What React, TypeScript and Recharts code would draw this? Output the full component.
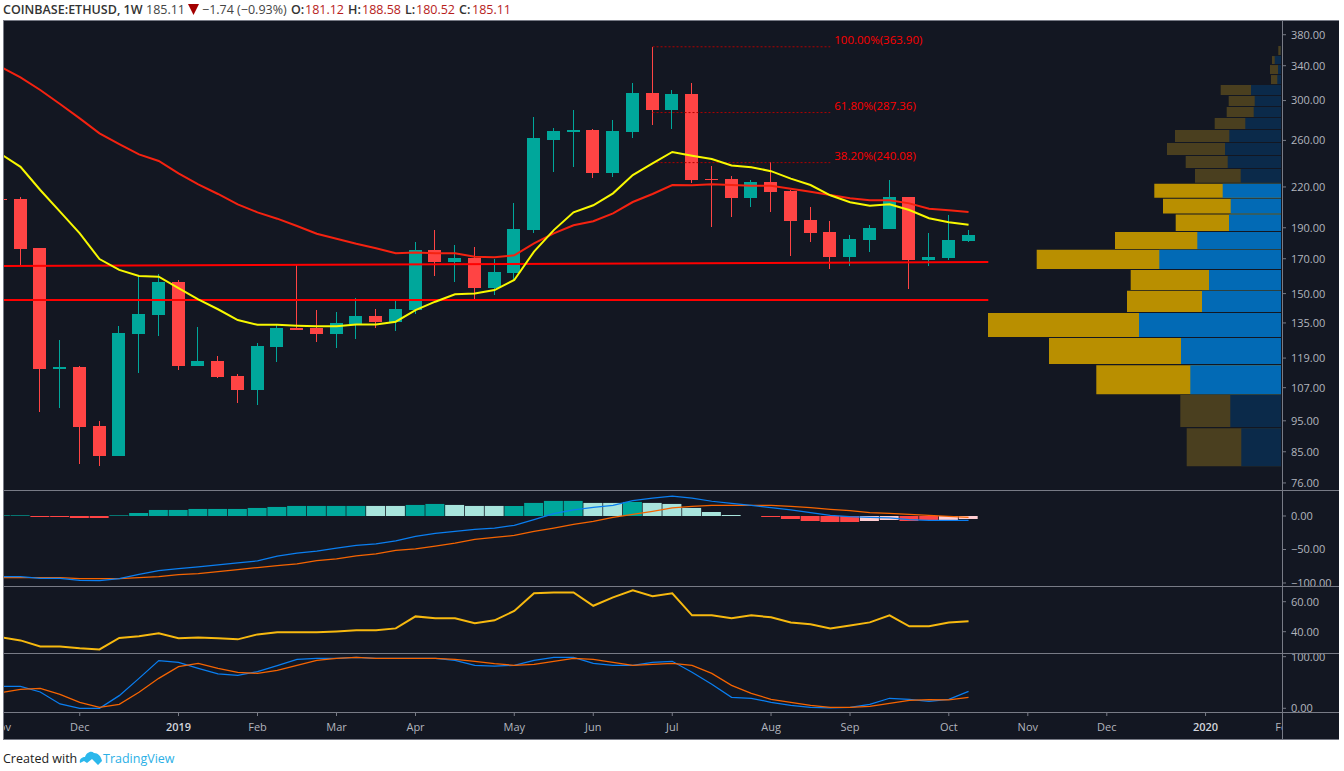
import {
  ComposedChart,
  Bar,
  Cell,
  Line,
  XAxis,
  YAxis,
  ReferenceLine,
  ReferenceArea,
} from "recharts";

// weekly candles, week 0 is the one cut off by the left edge
const opens = [211, 210.6, 176.7, 114.4, 115.3, 93.3, 83.7, 129.7, 138.9, 156.4, 115.7, 117.8, 111.6, 106.1, 123.8, 132.5, 132.5, 129.7, 134.5, 138.4, 135.4, 141.4, 175.4, 168, 170.4, 153, 161.5, 188.4, 260.4, 267.9, 269.9, 231.3, 267.9, 308.2, 290, 307.2, 226.3, 226.3, 211.4, 223.9, 216.8, 195.4, 187.1, 171.1, 181.8, 189.1, 212.2, 169.2, 170.4, 181.12];
const highs = [211.5, 212, 177, 127, 115.7, 94.9, 133.5, 159.8, 160.9, 157.5, 133, 119.9, 112.4, 125.6, 134.5, 166.2, 141.4, 140.4, 147.6, 141.9, 146.1, 180.5, 188.4, 178.6, 177.3, 169.8, 207.7, 282.8, 271.8, 290, 270.9, 279.8, 319.5, 363.9, 311.6, 319.5, 237.2, 228.8, 225.5, 240.6, 217.6, 204.7, 194.6, 185.1, 191.9, 225.5, 212.2, 186.4, 198.9, 188.58];
const lows = [210, 165.8, 98.4, 99.4, 81.3, 80.8, 83.7, 112.8, 128.8, 114, 115.7, 110.8, 101.3, 100.5, 117.3, 131.6, 126, 123.4, 127.4, 132.5, 131.2, 139.4, 159.8, 156.4, 146.6, 149.2, 157.5, 186.4, 232.1, 236.3, 227.2, 228, 262.2, 274.7, 270.9, 223.1, 190.5, 197.5, 204.7, 201, 171.7, 180.5, 163.8, 165.6, 174.1, 189.1, 152.5, 165.6, 169.2, 180.52];
const closes = [210.3, 176, 114.4, 115.3, 92.9, 83.7, 130.2, 139.4, 156.4, 115.7, 117.8, 111.2, 106.1, 124.3, 132.5, 131.6, 129.7, 134.9, 138.4, 135.4, 141.9, 175.4, 168, 170.4, 153, 162.1, 189.1, 262.2, 268.9, 269.9, 231.3, 268.9, 308.2, 290, 307.2, 225.5, 225.5, 211.4, 223.9, 216, 194.6, 186.4, 171.1, 182.5, 189.8, 212.2, 169.2, 171.1, 181.8, 185.11];

const maFast = [247.6, 236.5, 217.6, 201.3, 186.2, 169.8, 163.3, 159.8, 159.4, 153, 146.9, 141.8, 136.4, 134.1, 134.1, 133.7, 133.4, 133.4, 134.3, 134.3, 135.6, 141.4, 145.7, 149.6, 150.1, 151.9, 157.5, 174.4, 188.4, 200.8, 206, 215, 229.6, 239.5, 249.4, 246.1, 243.2, 237.6, 236.1, 232.8, 226.7, 221.5, 213.5, 208.2, 205.7, 206.7, 202.5, 196.6, 193.8, 192.1];
const maSlow = [338.4, 326.1, 311.6, 296.3, 281.4, 266.7, 256.6, 247.3, 241.5, 231, 222.1, 214.5, 206.7, 200.8, 196.3, 191.2, 186, 182.7, 179.4, 176.5, 173.4, 173.8, 173.4, 173.4, 171.2, 170.9, 172.1, 179.7, 186.2, 191.7, 194.5, 200.1, 208.4, 214.5, 221.5, 221.3, 222.1, 221.5, 221, 221, 218.6, 216.3, 213.7, 211.2, 209.7, 209.7, 207.4, 203.5, 202.3, 201];

const macdHist = [1, 1, -1.5, -1.5, -3, -3, 1, 4.5, 9, 9, 10.5, 10.5, 10.5, 12, 13.5, 15, 15, 15, 15, 15, 15, 16.5, 18, 16.5, 15, 15, 15, 19.5, 22.5, 22.5, 19.5, 19.5, 21, 19.5, 18, 12, 6, 1.5, 0, -1.5, -4.5, -7.5, -9, -9, -7.5, -6, -7.5, -6, -6, -4.5];
const macdPale = [19, 20, 23, 24, 25, 30, 31, 33, 34, 35, 36, 37, 44, 45, 48, 49];
const macdLine = [-90.5, -90.5, -93, -93, -96, -96.5, -93.5, -87, -81.5, -78.5, -76, -73, -70, -67, -60, -55.5, -52.5, -48, -44, -41.5, -37, -30.5, -26, -23, -20, -18, -14, -5.5, 3.5, 9, 13, 16, 23, 26.5, 29.5, 26.5, 22, 19, 16, 12.5, 9, 5, 1, -1, -2, -3, -5.5, -6.5, -6.5, -6.5];
const macdSignal = [-92, -92, -92, -92, -93.5, -93.5, -93.5, -92, -90.5, -87.5, -86, -83, -80, -77, -74, -71.5, -66.5, -64, -59.5, -56.5, -51.5, -49, -45, -40.5, -35, -32, -29, -23, -18, -12.5, -8, -2, 2.5, 7, 12, 14.5, 16, 16, 16, 16, 14.5, 12.5, 10, 8, 5, 4, 2.5, 1, -0.5, -2];

const rsi = [36.4, 34.2, 30.2, 30.2, 28.9, 28.2, 35.8, 36.9, 38.9, 35.6, 36.2, 35.6, 34.9, 38.2, 39.6, 39.6, 39.6, 40.2, 40.9, 40.9, 42.2, 50.2, 48.9, 48.9, 45.6, 47.6, 53.8, 65.6, 66.2, 66.2, 57.3, 62.9, 67.6, 63.6, 65.6, 50.9, 50.9, 48.9, 50.9, 49.6, 46.2, 44.9, 42.2, 44.2, 46.2, 50.9, 43.6, 43.6, 46.2, 46.9];

const stochK = [42.6, 42.6, 31.6, 8.4, 0, 0, 24.5, 58, 92.3, 89, 77.4, 66.5, 63.9, 71, 82.6, 94.8, 96.8, 96.8, 98.7, 96.8, 96.8, 96.8, 96.8, 92.9, 83.2, 81.9, 83.2, 92.9, 98.7, 98.7, 87.1, 83.2, 83.2, 89, 91, 69.7, 46.5, 21.3, 19.4, 11.6, 5.8, 1.9, 0.6, 1.9, 7.7, 19.4, 17.4, 13.5, 17.4, 32.9];
const stochD = [30.3, 36.8, 38.7, 27.1, 11.6, 1.9, 7.7, 31, 58, 80.6, 87.1, 77.4, 69.7, 67.7, 73.5, 83.2, 92.9, 96.8, 98.7, 96.8, 96.8, 96.8, 96.8, 94.8, 91, 86.5, 83.2, 85.2, 91, 96.8, 94.8, 89, 83.2, 85.2, 87.1, 83.2, 67.7, 44.5, 29, 17.4, 11.6, 5.8, 1.9, 1.9, 3.9, 9.7, 15.5, 16.8, 16.1, 21.3];

// volume profile rows, top to bottom
const vpHigh = [364.9, 352, 340.8, 328.8, 317.2, 304.9, 293.1, 281.7, 269.8, 257.7, 245.9, 234.7, 222.6, 210.9, 199.3, 187.1, 175.5, 163.3, 151.5, 139.9, 127.9, 116, 104.2, 92.5];
const vpLow = [353.3, 342.1, 330, 318.3, 306, 294.1, 282.7, 270.8, 258.6, 246.8, 235.5, 223.4, 211.7, 200, 187.8, 176.1, 163.9, 152, 140.4, 128.4, 116.5, 104.5, 92.9, 80.7];
const vpUp = [0.3, 6.3, 3, 3.7, 30, 26.3, 27.3, 35.7, 51.7, 56, 53.3, 40.3, 58.3, 50.3, 52, 83.7, 121.7, 72, 79, 142, 100, 90.7, 50.7, 39.7];
const vpTotal = [2.7, 9, 11, 10, 60.3, 52.3, 54.3, 66.3, 106, 114, 95.3, 86, 126.7, 118, 105.3, 166, 244.3, 150.3, 154, 293, 232, 184.7, 100.7, 94.3];
const vpValueArea = [12, 13, 14, 15, 16, 17, 18, 19, 20, 21];

const priceTicks = [380, 340, 300, 260, 220, 190, 170, 150, 135, 119, 107, 95, 85, 76];
const timeWeeks = [0, 4, 9, 13, 17, 21, 26, 30, 34, 39, 43, 48, 52, 56, 61, 65];
const timeLabels = ["Nov", "Dec", "2019", "Feb", "Mar", "Apr", "May", "Jun", "Jul", "Aug", "Sep", "Oct", "Nov", "Dec", "2020", "Feb"];

const fibLevels = [
  { label: "100.00%(363.90)", price: 363.9 },
  { label: "61.80%(287.36)", price: 287.36 },
  { label: "38.20%(240.08)", price: 240.08 },
];

const BG = "#131722";
const GRID = "#787b86";
const TEXT = "#b2b5be";
const UP = "#00a79b";
const DOWN = "#ff4444";
const FONT = "'Open Sans', sans-serif";
const WEEK_DOMAIN = [0.165, 64.87];
const CHART_W = 1335;
const AXIS_W = 57;

const rows = opens.map((open, week) => ({
  week,
  open,
  high: highs[week],
  low: lows[week],
  close: closes[week],
  maFast: maFast[week],
  maSlow: maSlow[week],
  hist: macdHist[week],
  macd: macdLine[week],
  signal: macdSignal[week],
  rsi: rsi[week],
  k: stochK[week],
  d: stochD[week],
}));

const fmt = (v: number) => (v < 0 ? "\u2212" : "") + Math.abs(v).toFixed(2);

function candleRect(p: any) {
  const color = p.payload.close >= p.payload.open ? UP : DOWN;
  return (
    <rect
      x={Math.round(p.x)}
      y={Math.round(p.y)}
      width={p.width}
      height={Math.max(1, Math.round(p.height))}
      fill={color}
    />
  );
}

function histColor(v: number, i: number) {
  const pale = macdPale.includes(i);
  if (v >= 0) return pale ? "#a8e4dc" : UP;
  return pale ? "#ffcdd2" : DOWN;
}

function TimeTick({ x, y, payload }: any) {
  const label = timeLabels[timeWeeks.indexOf(payload.value)];
  const year = label.startsWith("20");
  return (
    <g clipPath="url(#timeClip)">
      <line x1={x} x2={x} y1={y} y2={y + 4} stroke={GRID} />
      <text
        x={x}
        y={y + 19}
        textAnchor="middle"
        fontFamily={FONT}
        fontSize={11}
        fontWeight={year ? 600 : 400}
        fill={year ? "#d1d4dc" : TEXT}
      >
        {label}
      </text>
    </g>
  );
}

function PriceAxis({ ticks, domain, scale }: any) {
  return (
    <YAxis
      orientation="right"
      width={AXIS_W}
      scale={scale}
      domain={domain}
      ticks={ticks}
      interval={0}
      allowDataOverflow
      axisLine={false}
      tickLine={{ stroke: GRID }}
      tickSize={4}
      tickMargin={5}
      tickFormatter={fmt}
      tick={{ fill: TEXT, fontSize: 11, fontFamily: FONT }}
    />
  );
}

const hLine = (top: number): any => ({ position: "absolute", left: 3, width: 1336, top, height: 1, background: GRID });

function Header() {
  const red = "#b71c1c";
  const base: any = { position: "absolute", top: 1, fontFamily: FONT, fontSize: 12.5, color: "#333", whiteSpace: "nowrap" };
  const item = (left: number, text: string, color: string, weight = 400) => (
    <span style={{ ...base, left, color, fontWeight: weight }}>{text}</span>
  );
  return (
    <>
      {item(3, "COINBASE:ETHUSD, 1W", "#333", 600)}
      {item(146, "185.11", "#444")}
      <svg style={{ position: "absolute", left: 188, top: 4 }} width={11} height={11}>
        <polygon points="0,0 11,0 5.5,11" fill="#a30000" />
      </svg>
      {item(202, "\u22121.74 (\u22120.93%)", "#444")}
      {item(291, "O:", "#333", 600)}
      {item(305, "181.12", red)}
      {item(348, "H:", "#333", 600)}
      {item(362, "188.58", red)}
      {item(405, "L:", "#333", 600)}
      {item(416, "180.52", red)}
      {item(459, "C:", "#333", 600)}
      {item(472, "185.11", red)}
    </>
  );
}

function Footer() {
  return (
    <>
      <span style={{ position: "absolute", left: 3, top: 750, fontFamily: FONT, fontSize: 12.5, color: "#222" }}>
        Created with
      </span>
      <svg style={{ position: "absolute", left: 79, top: 750 }} width={24} height={16} viewBox="0 0 24 16">
        <path
          d="M1 13 C0 9 3 7 6 7 C7 3 12 0 15 3 C19 3 22 6 23 11 L19 15 L13 9 L8 13 L5 11 Z"
          fill="#2bb8ec"
        />
      </svg>
      <span style={{ position: "absolute", left: 103, top: 750, fontFamily: FONT, fontSize: 12.5, color: "#2bb0e6" }}>
        TradingView
      </span>
    </>
  );
}

export default function App() {
  return (
    <div style={{ position: "absolute", left: 0, top: 0, width: 1344, height: 771, background: "#fff", overflow: "hidden" }}>
      <Header />
      <div style={{ position: "absolute", left: 3, top: 20, width: 1336, height: 720, background: BG }} />

      {/* price pane */}
      <div style={{ position: "absolute", left: 4, top: 21 }}>
        <ComposedChart width={CHART_W} height={469} data={rows} margin={{ top: 0, right: 0, bottom: 0, left: 0 }}>
          <XAxis xAxisId="wick" type="number" dataKey="week" domain={WEEK_DOMAIN} allowDataOverflow hide />
          <XAxis xAxisId="body" type="number" dataKey="week" domain={WEEK_DOMAIN} allowDataOverflow hide />
          <XAxis xAxisId="vol" type="number" dataKey="week" domain={[-1, 1277]} reversed allowDataOverflow hide />
          {PriceAxis({ ticks: priceTicks, domain: [74.1, 399.2], scale: "log" })}

          {vpTotal.map((total, i) => {
            const bright = vpValueArea.includes(i);
            return (
              <ReferenceArea
                key={"vp" + i}
                xAxisId="vol"
                x1={0}
                x2={total}
                y1={vpLow[i]}
                y2={vpHigh[i]}
                ifOverflow="visible"
                fill={bright ? "#b98f00" : "#4a3f1f"}
                fillOpacity={1}
                stroke="none"
              />
            );
          })}
          {vpUp.map((up, i) => {
            const bright = vpValueArea.includes(i);
            return (
              <ReferenceArea
                key={"vpu" + i}
                xAxisId="vol"
                x1={0}
                x2={up}
                y1={vpLow[i]}
                y2={vpHigh[i]}
                ifOverflow="visible"
                fill={bright ? "#026ab5" : "#0b2a4a"}
                fillOpacity={1}
                stroke="none"
              />
            );
          })}

          {fibLevels.map((f) => (
            <ReferenceLine
              key={f.label}
              xAxisId="wick"
              segment={[{ x: 33, y: f.price }, { x: 42, y: f.price }]}
              stroke="#b00000"
              strokeDasharray="2 2"
              ifOverflow="visible"
              label={{ value: f.label, position: "right", offset: 4, dy: -7, fill: "#ff0000", fontSize: 11.5, fontFamily: FONT }}
            />
          ))}
          <ReferenceLine
            xAxisId="wick"
            segment={[{ x: 0.165, y: 165.6 }, { x: 50, y: 168 }]}
            stroke="#ff0000"
            strokeWidth={2}
            ifOverflow="visible"
          />
          <ReferenceLine
            xAxisId="wick"
            segment={[{ x: 0.165, y: 146.6 }, { x: 50, y: 146.6 }]}
            stroke="#ff0000"
            strokeWidth={2}
            ifOverflow="visible"
          />

          <Line xAxisId="wick" dataKey="maSlow" stroke="#f52210" strokeWidth={2} dot={false} isAnimationActive={false} />
          <Line xAxisId="wick" dataKey="maFast" stroke="#f8f800" strokeWidth={2} dot={false} isAnimationActive={false} />

          <Bar xAxisId="wick" dataKey={(d: any) => [d.low, d.high]} barSize={1} shape={candleRect} isAnimationActive={false} />
          <Bar xAxisId="body" dataKey={(d: any) => [Math.min(d.open, d.close), Math.max(d.open, d.close)]} barSize={13} shape={candleRect} isAnimationActive={false} />
        </ComposedChart>
      </div>

      {/* macd pane */}
      <div style={{ position: "absolute", left: 4, top: 491 }}>
        <ComposedChart width={CHART_W} height={95} data={rows} margin={{ top: 0, right: 0, bottom: 0, left: 0 }}>
          <XAxis type="number" dataKey="week" domain={WEEK_DOMAIN} allowDataOverflow hide />
          {PriceAxis({ ticks: [0, -50, -100], domain: [-104.5, 37.3], scale: "linear" })}
          <Bar dataKey="hist" barSize={19} isAnimationActive={false}>
            {macdHist.map((v, i) => (
              <Cell key={i} fill={histColor(v, i)} />
            ))}
          </Bar>
          <Line dataKey="signal" stroke="#f66400" strokeWidth={1.25} dot={false} isAnimationActive={false} />
          <Line dataKey="macd" stroke="#0a7ef0" strokeWidth={1.25} dot={false} isAnimationActive={false} />
        </ComposedChart>
      </div>

      {/* rsi pane */}
      <div style={{ position: "absolute", left: 4, top: 587 }}>
        <ComposedChart width={CHART_W} height={66} data={rows} margin={{ top: 0, right: 0, bottom: 0, left: 0 }}>
          <XAxis type="number" dataKey="week" domain={WEEK_DOMAIN} allowDataOverflow hide />
          {PriceAxis({ ticks: [60, 40], domain: [25.8, 69.8], scale: "linear" })}
          <Line dataKey="rsi" stroke="#f7b90f" strokeWidth={2} dot={false} isAnimationActive={false} />
        </ComposedChart>
      </div>

      {/* stochastic pane with the time axis */}
      <div style={{ position: "absolute", left: 4, top: 654 }}>
        <ComposedChart width={CHART_W} height={85} data={rows} margin={{ top: 0, right: 0, bottom: 0, left: 0 }}>
          <defs>
            <clipPath id="timeClip">
              <rect x={0} y={0} width={1278} height={85} />
            </clipPath>
          </defs>
          <XAxis
            type="number"
            dataKey="week"
            domain={WEEK_DOMAIN}
            allowDataOverflow
            ticks={timeWeeks}
            interval={0}
            height={27}
            axisLine={false}
            tickLine={false}
            tickSize={0}
            tickMargin={0}
            tick={TimeTick}
          />
          {PriceAxis({ ticks: [100, 0], domain: [-7.2, 105.2], scale: "linear" })}
          <Line dataKey="k" stroke="#0a7ef0" strokeWidth={1.25} dot={false} isAnimationActive={false} />
          <Line dataKey="d" stroke="#f66400" strokeWidth={1.25} dot={false} isAnimationActive={false} />
        </ComposedChart>
      </div>

      <div style={hLine(20)} />
      <div style={hLine(490)} />
      <div style={hLine(586)} />
      <div style={hLine(653)} />
      <div style={hLine(712)} />
      <div style={hLine(739)} />
      <div style={{ position: "absolute", left: 3, top: 20, width: 1, height: 720, background: GRID }} />
      <div style={{ position: "absolute", left: 1282, top: 20, width: 1, height: 720, background: GRID }} />
      <Footer />
    </div>
  );
}
